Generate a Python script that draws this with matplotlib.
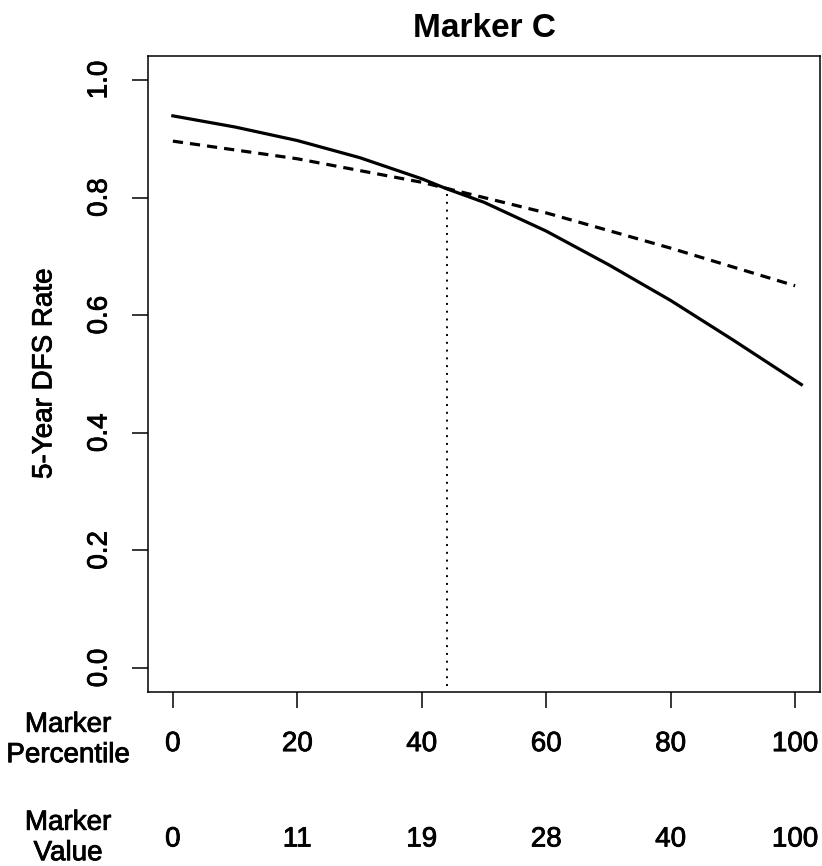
import matplotlib
matplotlib.use("Agg")
import matplotlib.pyplot as plt
import matplotlib.patheffects as pe
import numpy as np

plt.rcParams['font.family'] = ['Liberation Sans', 'DejaVu Sans']

# 曲線の読み取り値 (percentile, 5-year DFS rate)
solid_x = [0, 10, 20, 30, 40, 44, 50, 60, 70, 80, 90, 101]
solid_y = [0.939, 0.920, 0.897, 0.868, 0.832, 0.815, 0.792, 0.743, 0.686, 0.625, 0.558, 0.482]

dash_x = [0, 20, 40, 60, 80, 100]
dash_y = [0.896, 0.866, 0.826, 0.774, 0.714, 0.650]

cut_x = 44
cut_y = 0.815

pct_ticks = [0, 20, 40, 60, 80, 100]
value_labels = ["0", "11", "19", "28", "40", "100"]
y_ticks = [0.0, 0.2, 0.4, 0.6, 0.8, 1.0]

# 少しだけ太く見せる
thick = [pe.withStroke(linewidth=0.6, foreground="black")]

fig = plt.figure(figsize=(8.22, 8.66), dpi=100)
ax = fig.add_axes([0.180, 0.2015, 0.8176, 0.7333])

ax.plot(solid_x, solid_y, '-', color="black", lw=2.3)
ax.plot(dash_x, dash_y, color="black", lw=2.3, dashes=(3.2, 2.2))
ax.plot([cut_x, cut_x], [-0.03, cut_y], color="black", lw=1.4, dashes=(1, 3))

ax.set_xlim(-4, 104)
ax.set_ylim(-0.04, 1.04)

ax.set_yticks(y_ticks)
ax.set_yticklabels(["%.1f" % v for v in y_ticks], rotation=90, va="center",
                   fontsize=20)
ax.set_xticks(pct_ticks)
ax.set_xticklabels([str(v) for v in pct_ticks], fontsize=20)
ax.tick_params(axis="both", length=11.5, width=1.1)
ax.tick_params(axis="y", pad=14)
ax.tick_params(axis="x", pad=17)
for s in ax.spines.values():
    s.set_linewidth(1.1)
for t in ax.get_xticklabels() + ax.get_yticklabels():
    t.set_path_effects(thick)

ax.set_ylabel("5-Year DFS Rate", fontsize=20, labelpad=21, path_effects=thick)
ax.set_title("Marker C", fontsize=24, fontweight="bold", pad=14)

# 2段目の目盛ラベル
tr = ax.get_xaxis_transform()
for x, lab in zip(pct_ticks, value_labels):
    ax.text(x, -0.233, lab, transform=tr, ha="center", va="center", fontsize=20,
            path_effects=thick)

fig.text(68 / 822, 1 - 740 / 866, "Marker\nPercentile", ha="center", va="center",
         fontsize=20, linespacing=1.22, path_effects=thick)
fig.text(68 / 822, 1 - 838 / 866, "Marker\nValue", ha="center", va="center",
         fontsize=20, linespacing=1.22, path_effects=thick)

fig.savefig("out.png", dpi=100)
